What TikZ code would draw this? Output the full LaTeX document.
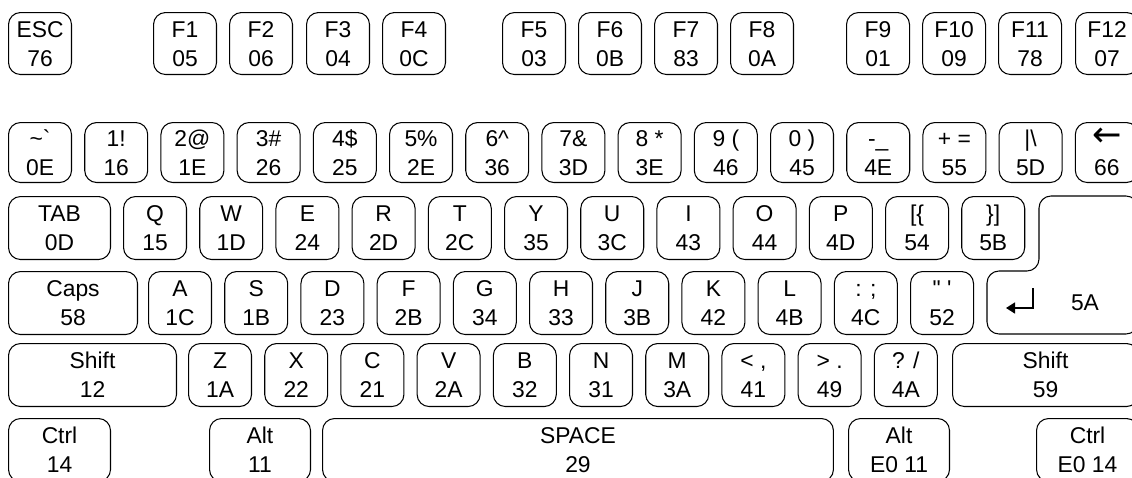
\documentclass[tikz,border=0pt]{standalone}
\usepackage{fontspec}
\setmainfont{Liberation Sans}
\newfontfamily\symfont{DejaVu Sans}
\usetikzlibrary{arrows.meta}
\newcommand\kstrut{\rule[-1.7pt]{0pt}{12.7pt}}
\tikzset{
  key/.style={draw, rounded corners=0.24cm, line width=0.6pt, anchor=north west, align=center,
    inner sep=0pt, minimum width=1.26cm, minimum height=1.26cm,
    font=\fontsize{13}{16.4}\selectfont},
  keyline/.style={draw, rounded corners=0.24cm, line width=0.6pt},
  arr/.style={-{Triangle[length=0.18cm, width=0.22cm]}, line width=0.9pt},
}

\begin{document}
\begin{tikzpicture}[x=0.02cm, y=-0.02cm]
  \useasboundingbox (0,0) rectangle (1132,477);
  % function row
  \node[key, minimum height=1.24cm] (esc) at (8,12) {\kstrut ESC\\\kstrut 76};
  \foreach \x/\lbl/\scan in {153/F1/05, 229/F2/06, 306/F3/04, 382/F4/0C,
      502/F5/03, 578/F6/0B, 654/F7/83, 730/F8/0A,
      846/F9/01, 922/F10/09, 998/F11/78, 1075/F12/07} {
    \node[key, minimum height=1.24cm] (\lbl) at (\x,12) {\kstrut\lbl\\\kstrut\scan};
  }
  % number row
  \foreach \lbl/\scan [count=\i from 0] in {\textasciitilde\textasciigrave/0E, 1!/16, 2@/1E,
      3\#/26, 4\$/25, 5\%/2E, 6\textasciicircum/36, 7\&/3D, 8 */3E, 9 (/46, 0 )/45,
      -\_/4E, + =/55, \textbar\textbackslash/5D,
      {{\symfont\fontsize{20}{16.4}\selectfont\smash{←}}}/66} {
    \node[key, minimum height=1.2cm] (num\i) at (8+76.2*\i,122) {\kstrut\lbl\\\kstrut\scan};
  }
  % tab row
  \node[key, minimum width=2.04cm] (tab) at (8,196) {\kstrut TAB\\\kstrut 0D};
  \foreach \lbl/\scan [count=\i from 0] in {Q/15, W/1D, E/24, R/2D, T/2C, Y/35, U/3C,
      I/43, O/44, P/4D, [\{/54, \}]/5B} {
    \node[key] (tab\i) at (123+76.2*\i,196) {\kstrut\lbl\\\kstrut\scan};
  }
  % enter
  \path[keyline] (987,334) -- (987,271) -- (1039,271) -- (1039,196)
    -- (1138,196) -- (1138,334) -- cycle;
  \node[font=\fontsize{13}{16.4}\selectfont] (enter) at (1085,303) {5A};
  \coordinate (ret) at (1033,288);
  \draw[arr] (ret) |- ++(-27,20);
  % caps row
  \node[key, minimum width=2.58cm] (caps) at (8,271) {\kstrut Caps\\\kstrut 58};
  \foreach \lbl/\scan [count=\i from 0] in {A/1C, S/1B, D/23, F/2B, G/34, H/33, J/3B,
      K/42, L/4B, : ;/4C, \textquotedbl\ \textquotesingle/52} {
    \node[key] (caps\i) at (148+76.2*\i,271) {\kstrut\lbl\\\kstrut\scan};
  }
  % shift row
  \node[key, minimum width=3.36cm] (lshift) at (8,343) {\kstrut Shift\\\kstrut 12};
  \foreach \lbl/\scan [count=\i from 0] in {Z/1A, X/22, C/21, V/2A, B/32, N/31, M/3A,
      {< ,}/41, {> .}/49, {? /}/4A} {
    \node[key] (shift\i) at (188+76.2*\i,343) {\kstrut\lbl\\\kstrut\scan};
  }
  \node[key, minimum width=3.72cm] (rshift) at (952,343) {\kstrut Shift\\\kstrut 59};
  % bottom row
  \node[key, minimum width=2.04cm] (lctrl) at (8,418) {\kstrut Ctrl\\\kstrut 14};
  \node[key, minimum width=2.02cm] (lalt) at (209,418) {\kstrut Alt\\\kstrut 11};
  \node[key, minimum width=10.22cm] (space) at (322,418) {\kstrut SPACE\\\kstrut 29};
  \node[key, minimum width=2.02cm] (ralt) at (848,418) {\kstrut Alt\\\kstrut E0 11};
  \node[key, minimum width=2.04cm] (rctrl) at (1036,418) {\kstrut Ctrl\\\kstrut E0 14};
\end{tikzpicture}
\end{document}
